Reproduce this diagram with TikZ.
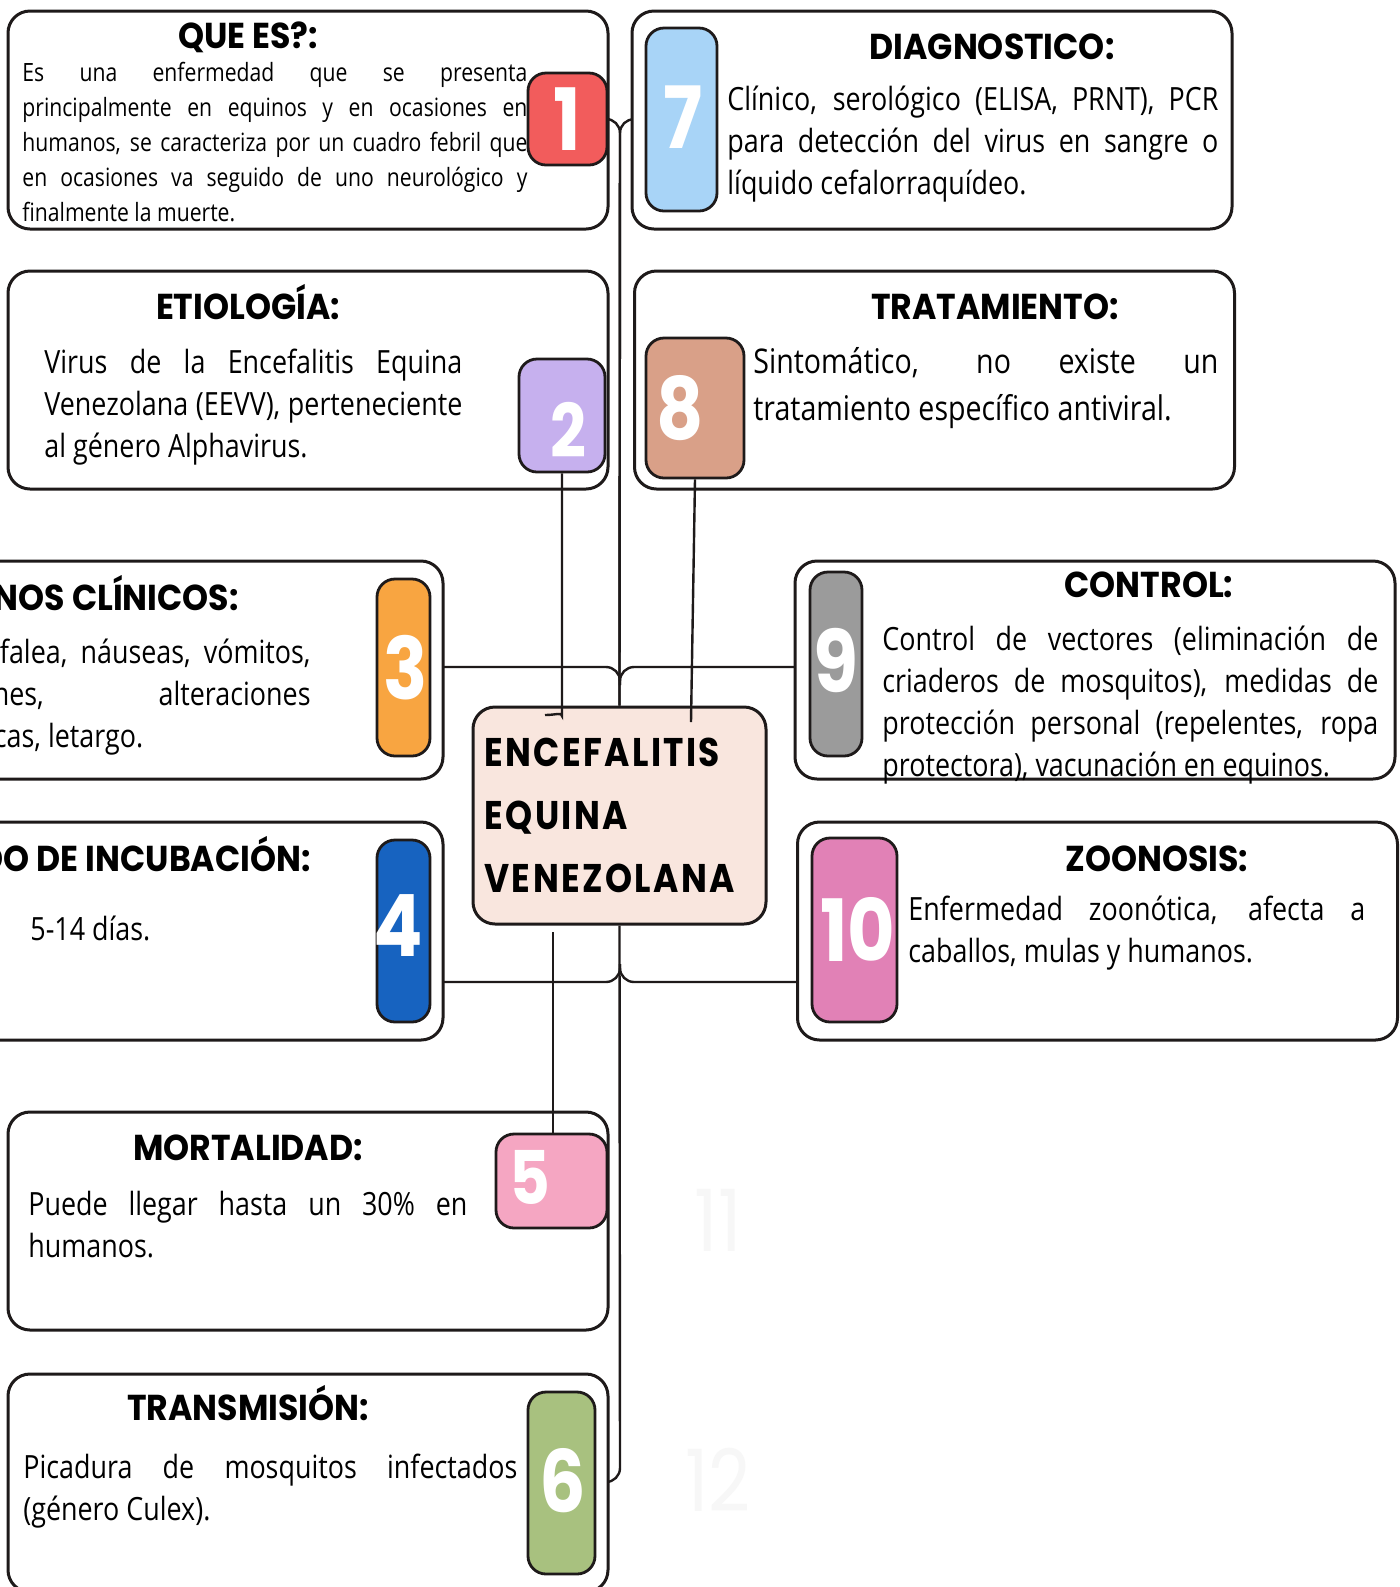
\documentclass[tikz,border=0pt]{standalone}
\usepackage{fontspec}
\setmainfont{Open Sans}[FakeStretch=0.84]
\newfontfamily\headfont{Poppins}[FakeStretch=0.92]
\newfontfamily\numfont{Poppins}[FakeStretch=0.85]
\newfontfamily\titlefont{Poppins}[FakeStretch=0.86, LetterSpace=6]
\usetikzlibrary{backgrounds}
\hyphenpenalty=10000
\exhyphenpenalty=10000

\definecolor{cInk}{HTML}{1E1A1A}
\definecolor{cRed}{HTML}{F25C5C}
\definecolor{cSky}{HTML}{A8D4F7}
\definecolor{cLilac}{HTML}{C6B0EE}
\definecolor{cClay}{HTML}{D9A088}
\definecolor{cOrange}{HTML}{F8A541}
\definecolor{cBlue}{HTML}{1763C0}
\definecolor{cGray}{HTML}{9B9B9B}
\definecolor{cMagenta}{HTML}{E181B6}
\definecolor{cPink}{HTML}{F5A6C2}
\definecolor{cOlive}{HTML}{A8C17F}
\definecolor{cPeach}{HTML}{F9E6DE}

\begin{document}
\begin{tikzpicture}[x=0.5pt, y=-0.5pt,
    card/.style={draw=cInk, line width=1.5pt, rounded corners=11pt, fill=white,
      minimum width=300pt, minimum height=109pt, inner sep=0pt},
    badge/.style={draw=cInk, line width=1.4pt, rounded corners=9pt, inner sep=0pt},
    num/.style={text=white, font=\numfont\bfseries\fontsize{43}{43}\selectfont, inner sep=0pt},
    head/.style={font=\headfont\bfseries\fontsize{18}{18}\selectfont, inner sep=0pt, anchor=base},
    body/.style={align=justify, inner sep=0pt, anchor=north west,
      font=\fontsize{16}{21}\selectfont},
    link/.style={line width=1.2pt, draw=cInk, rounded corners=7pt}]
    \useasboundingbox (0,0) rectangle (1400,1587);
    \clip (0,0) rectangle (1400,1587);

    % Cards on the left
    \node[card] (qe) at (308,120) {};
    \node[card] (eti) at (308,380) {};
    \node[card] (sig) at (143,670) {};
    \node[card] (inc) at (143,931) {};
    \node[card] (mor) at (308,1221) {};
    \node[card] (tra) at (308,1483) {};

    % Cards on the right
    \node[card] (dia) at (932,120) {};
    \node[card] (trt) at (934.5,380) {};
    \node[card] (con) at (1095,670) {};
    \node[card] (zoo) at (1097.5,931) {};

    % Central topic
    \node[draw=cInk, fill=cPeach, line width=1.5pt, rounded corners=11pt,
      minimum width=146.5pt, minimum height=108.5pt, inner xsep=5.5pt,
      text width=135pt, align=left,
      font=\titlefont\bfseries\fontsize{20}{31.5}\selectfont] (hub) at (619.5,815.5)
      {ENCEFALITIS\\EQUINA\\VENEZOLANA};

    % Numbered badges
    \node[badge, fill=cRed, minimum width=39.5pt, minimum height=46pt] (b1) at (567.5,119) {};
    \node[badge, fill=cLilac, minimum width=43pt, minimum height=56.5pt] (b2) at (562,415.5) {};
    \node[badge, fill=cOrange, minimum width=26.5pt, minimum height=88.5pt] (b3) at (403.5,667.5) {};
    \node[badge, fill=cBlue, minimum width=26.5pt, minimum height=91pt] (b4) at (403.5,931) {};
    \node[badge, fill=cPink, minimum width=55.5pt, minimum height=47pt] (b5) at (551.5,1181) {};
    \node[badge, fill=cOlive, minimum width=33.5pt, minimum height=91pt] (b6) at (561.5,1483) {};
    \node[badge, fill=cSky, minimum width=35.5pt, minimum height=91.5pt] (b7) at (681.5,119.5) {};
    \node[badge, fill=cClay, minimum width=49pt, minimum height=70pt] (b8) at (695,408) {};
    \node[badge, fill=cGray, minimum width=26pt, minimum height=92pt] (b9) at (836,664) {};
    \node[badge, fill=cMagenta, minimum width=42.5pt, minimum height=92pt] (b10) at (854.5,930) {};

    \node[num] (n1) at (567,119) {1};
    \node[num, font=\numfont\bfseries\fontsize{37}{37}\selectfont] (n2) at (568,430) {2};
    \node[num] (n3) at (406,668) {3};
    \node[num] (n4) at (398,926) {4};
    \node[num, font=\numfont\bfseries\fontsize{37}{37}\selectfont] (n5) at (530,1177) {5};
    \node[num] (n6) at (563,1481) {6};
    \node[num] (n7) at (683,117) {7};
    \node[num] (n8) at (680,408) {8};
    \node[num] (n9) at (836,660) {9};
    \node[num] (n10) at (858,929) {10};
    \node[num, font=\numfont\fontsize{43}{43}\selectfont, text=black!3] (n11) at (718,1220) {11};
    \node[num, font=\numfont\fontsize{43}{43}\selectfont, text=black!3] (n12) at (718,1480) {12};

    % Headings
    \node[head] (h1) at (248,48) {QUE ES?:};
    \node[head] (h2) at (248,319) {ETIOLOGÍA:};
    \node[head, anchor=base east] (h3) at (239,610) {SIGNOS CLÍNICOS:};
    \node[head, anchor=base east] (h4) at (311,871) {PERIODO DE INCUBACIÓN:};
    \node[head] (h5) at (248,1160) {MORTALIDAD:};
    \node[head] (h6) at (248,1420) {TRANSMISIÓN:};
    \node[head] (h7) at (992,59) {DIAGNOSTICO:};
    \node[head] (h8) at (995,319) {TRATAMIENTO:};
    \node[head] (h9) at (1149,597) {CONTROL:};
    \node[head] (h10) at (1157,871) {ZOONOSIS:};

    % Texts
    \node[body, text width=252.5pt, font=\fontsize{12.6}{17.5}\selectfont] (t1) at (22,62)
      {Es una enfermedad que se presenta\linebreak principalmente en equinos y en ocasiones en\linebreak humanos, se caracteriza por un cuadro febril que\linebreak en ocasiones va seguido de uno neurológico y\linebreak finalmente la muerte.};
    \node[body, text width=209pt] (t2) at (44,349)
      {Virus de la Encefalitis Equina\linebreak Venezolana (EEVV), perteneciente\linebreak al género Alphavirus.};
    \node[body, text width=218pt, anchor=north east] (t3) at (311,639)
      {Fiebre, cefalea, náuseas, vómitos,\linebreak convulsiones, alteraciones\linebreak neurológicas, letargo.};
    \node[body] (t4) at (30,916) {5-14 días.};
    \node[body, text width=219.5pt] (t5) at (28,1191)
      {Puede llegar hasta un 30\% en\linebreak humanos.};
    \node[body, text width=247pt] (t6) at (23,1454)
      {Picadura de mosquitos infectados\linebreak (género Culex).};
    \node[body, text width=245.5pt] (t7) at (727,86)
      {Clínico, serológico (ELISA, PRNT), PCR\linebreak para detección del virus en sangre o\linebreak líquido cefalorraquídeo.};
    \node[body, text width=232.5pt, font=\fontsize{17}{23.5}\selectfont] (t8) at (753,347)
      {Sintomático, no existe un\linebreak tratamiento específico antiviral.};
    \node[body, text width=248pt] (t9) at (882,626)
      {Control de vectores (eliminación de\linebreak criaderos de mosquitos), medidas de\linebreak protección personal (repelentes, ropa\linebreak protectora), vacunación en equinos.};
    \node[body, text width=228.5pt] (t10) at (908,896)
      {Enfermedad zoonótica, afecta a\linebreak caballos, mulas y humanos.};

    % Trunk and branches behind the cards
    \coordinate (jTop) at (620,119);
    \coordinate (jUp) at (620,667);
    \coordinate (jLow) at (620,982);
    \coordinate (jBot) at (620,1482);
    \begin{scope}[on background layer]
        \fill[white] (0,0) rectangle (1400,1587);
        \draw[link] (b1.east) -- (jTop) -- (hub.north);
        \draw[link] (b7.west) -- (jTop) -- (hub.north);
        \draw[link] (b3.east |- jUp) -- (jUp) -- ++(0,18);
        \draw[link] (b9.west |- jUp) -- (jUp) -- ++(0,18);
        \draw[link] (b4.east |- jLow) -- (jLow) -- ++(0,-18);
        \draw[link] (b10.west |- jLow) -- (jLow) -- ++(0,-18);
        \draw[link] (hub.south) -- (jBot) -- (b6.east |- jBot);
    \end{scope}

    % Short branches into the central topic
    \coordinate (e2) at (545,715);
    \coordinate (e8) at (691,722);
    \coordinate (e5) at (553,932);
    \draw[link] (b2.south) -- (562,702) .. controls (562,712) and (556,715) .. (e2);
    \draw[link] (b8.south) -- (e8);
    \draw[link] (e5) -- (e5 |- b5.north);
\end{tikzpicture}
\end{document}
